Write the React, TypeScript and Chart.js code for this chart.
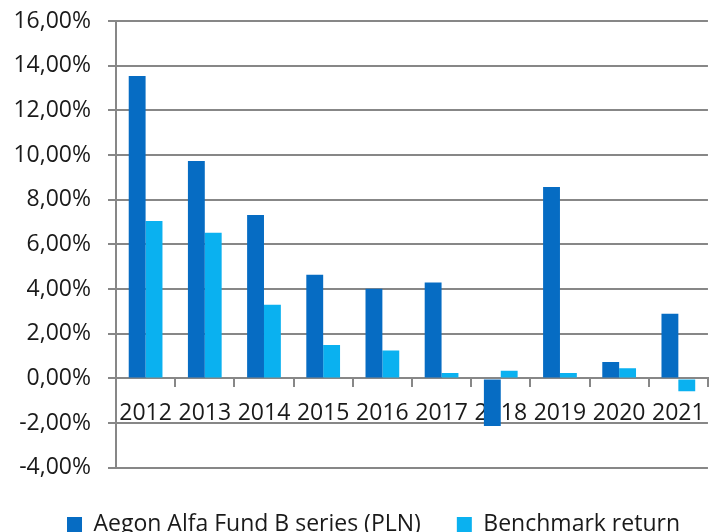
import React, { useEffect, useRef } from "react";
import { Chart, registerables } from "chart.js";

Chart.register(...registerables);

const categories = ["2012", "2013", "2014", "2015", "2016", "2017", "2018", "2019", "2020", "2021"];
const fundValues = [13.54, 9.73, 7.32, 4.64, 4.02, 4.29, -2.13, 8.57, 0.74, 2.9];
const benchmarkValues = [7.05, 6.52, 3.3, 1.5, 1.25, 0.24, 0.34, 0.24, 0.46, -0.57];
const seriesNames = ["Aegon Alfa Fund B series (PLN)", "Benchmark return"];
const yTicks = [-4, -2, 0, 2, 4, 6, 8, 10, 12, 14, 16];

const FONT = "'Open Sans', sans-serif";
const GRID = "#878787";

const legendShift = {
  id: "legendShift",
  afterLayout(chart: any) {
    const lg = chart.legend;
    if (lg) {
      lg.left += 18;
      lg.right += 18;
    }
  },
};

export default function App() {
  const ref = useRef<HTMLCanvasElement | null>(null);
  useEffect(() => {
    if (!ref.current) return;
    const chart = new Chart(ref.current, {
      type: "bar",
      data: {
        labels: categories,
        datasets: [
          { label: seriesNames[0], data: fundValues, backgroundColor: "#066CC3", categoryPercentage: 0.57, barPercentage: 1 },
          { label: seriesNames[1], data: benchmarkValues, backgroundColor: "#0AB1F0", categoryPercentage: 0.57, barPercentage: 1 },
        ],
      },
      plugins: [legendShift],
      options: {
        responsive: false,
        animation: false,
        layout: { padding: { left: 0, right: 7, top: 21, bottom: 0 } },
        plugins: {
          tooltip: { enabled: false },
          legend: {
            position: "bottom",
            title: { display: true, text: "", padding: { top: 8, bottom: 0 }, font: { size: 1 } },
            labels: {
              boxWidth: 15,
              boxHeight: 15,
              padding: 36,
              color: "#1a1a1a",
              font: { family: FONT, size: 23 },
            },
          },
        },
        scales: {
          x: {
            position: { y: 0 },
            afterFit: (axis: any) => {
              axis.paddingTop = 0;
              axis.paddingBottom = 0;
            },
            grid: { display: true, drawOnChartArea: false, drawTicks: true, tickLength: 8, offset: true, color: GRID, lineWidth: 2 },
            border: { display: true, color: GRID, width: 2 },
            ticks: { color: "#1a1a1a", font: { family: FONT, size: 23 }, padding: 13, maxRotation: 0, autoSkip: false },
          },
          y: {
            min: -4,
            max: 16,
            afterBuildTicks: (axis: any) => {
              axis.ticks = yTicks.map((v) => ({ value: v }));
            },
            afterFit: (axis: any) => {
              axis.width = 116;
              axis.paddingTop = 0;
              axis.paddingBottom = 0;
            },
            grid: { color: GRID, lineWidth: 2, tickLength: 8, drawTicks: true },
            border: { display: true, color: GRID, width: 2 },
            ticks: {
              color: "#1a1a1a",
              font: { family: FONT, size: 23 },
              padding: 17,
              callback: (v: any) => Number(v).toFixed(2).replace(".", ",") + "%",
            },
          },
        },
      },
    });
    return () => chart.destroy();
  }, []);
  return (
    <div style={{ position: "fixed", left: 0, top: 0, width: 718, height: 546, background: "#fff" }}>
      <canvas ref={ref} width={718} height={546} />
    </div>
  );
}
